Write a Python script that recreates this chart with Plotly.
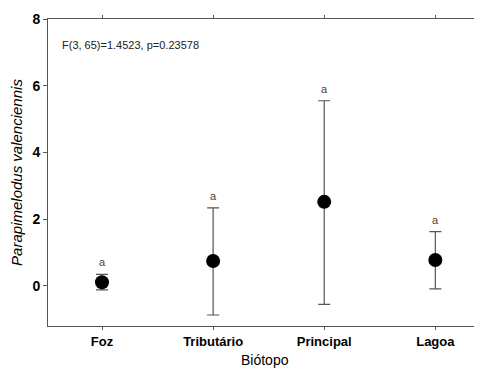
import plotly.graph_objects as go

categories = ["Foz", "Tributário", "Principal", "Lagoa"]
means = [0.11, 0.75, 2.52, 0.78]
upper = [0.35, 2.34, 5.55, 1.63]
lower = [-0.12, -0.87, -0.55, -0.09]
letters = ["a", "a", "a", "a"]
y_ticks = [0, 2, 4, 6, 8]
stat_text = "F(3, 65)=1.4523, p=0.23578"

err_plus = [u - m for u, m in zip(upper, means)]
err_minus = [m - l for m, l in zip(means, lower)]

font = "Liberation Sans, Arial, sans-serif"
axis_col = "#555555"

fig = go.Figure()
fig.add_trace(go.Scatter(
    x=list(range(len(categories))), y=means, mode="markers",
    marker=dict(color="black", size=14),
    error_y=dict(type="data", symmetric=False, array=err_plus, arrayminus=err_minus,
                 color=axis_col, thickness=1.2, width=6),
    showlegend=False,
))

for i, (u, t) in enumerate(zip(upper, letters)):
    fig.add_annotation(x=i, y=u, text=t, showarrow=False, yshift=12,
                       font=dict(family=font, size=11, color="#4a4030"))

fig.add_annotation(x=0, y=1, xref="paper", yref="paper", xanchor="left", yanchor="top",
                   text=stat_text, showarrow=False, xshift=12, yshift=-18,
                   font=dict(family=font, size=11, color="#222222"))

fig.add_annotation(x=0.5, y=0, xref="paper", yref="paper", xanchor="center", yanchor="top",
                   text="Biótopo", showarrow=False, yshift=-24,
                   font=dict(family=font, size=14, color="black"))

fig.update_layout(
    width=474, height=361,
    margin=dict(l=40, r=0, t=11, b=43),
    plot_bgcolor="white", paper_bgcolor="white",
    font=dict(family=font),
)
fig.update_xaxes(
    tickmode="array", tickvals=list(range(len(categories))), ticktext=categories,
    range=[-0.486, 3.42], showgrid=False, zeroline=False, automargin=False,
    showline=True, linecolor=axis_col, linewidth=1, mirror="ticks",
    ticks="outside", ticklen=3, tickcolor=axis_col,
    tickfont=dict(family=font, size=13, color="black", weight="bold"),
)
fig.update_yaxes(
    range=[-1.2, 8], tickvals=y_ticks, showgrid=False, zeroline=False, automargin=False,
    showline=True, linecolor=axis_col, linewidth=1,
    ticks="outside", ticklen=4, tickcolor=axis_col,
    tickfont=dict(family=font, size=14, color="black", weight="bold"),
    title=dict(text="<i>Parapimelodus valenciennis</i>", font=dict(family=font, size=15, color="black"), standoff=10),
)

fig.write_html("out.html")
